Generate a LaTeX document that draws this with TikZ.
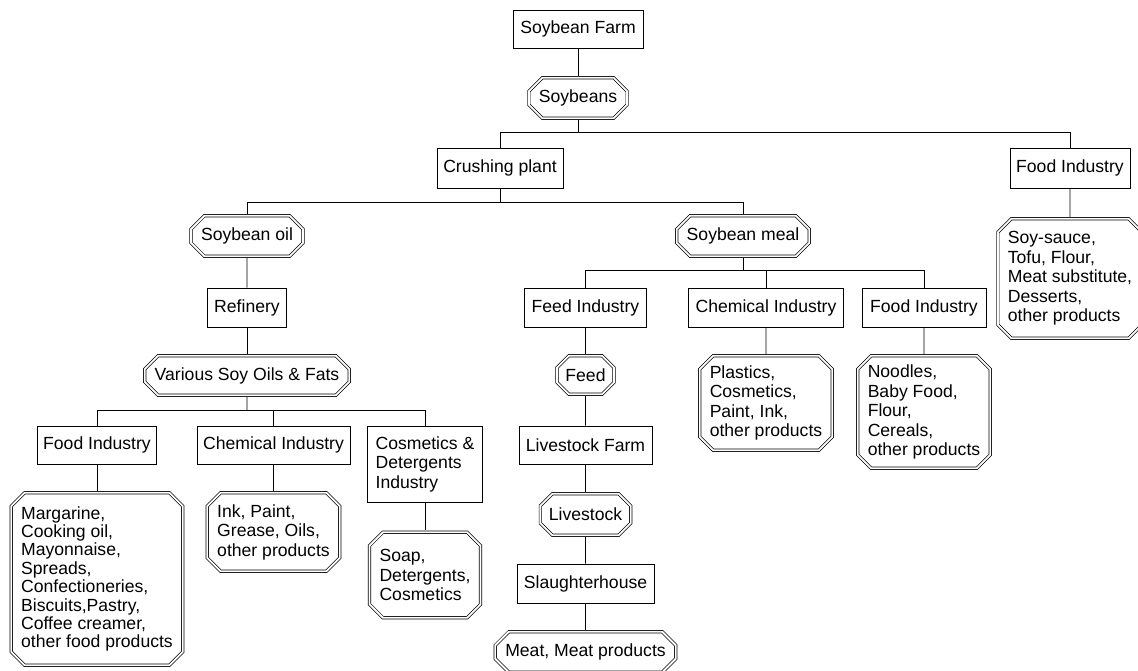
\documentclass[tikz,border=0pt]{standalone}
\usepackage{fontspec}
\setmainfont{Liberation Sans}
\usetikzlibrary{shapes.misc}

\tikzset{
  box/.style={draw, rectangle, line width=0.8pt, inner sep=2pt},
  prod/.style={draw, chamfered rectangle, chamfered rectangle xsep=10pt,
    double, double distance=1.8pt, line width=0.7pt, outer sep=1.7pt,
    align=left, inner xsep=0pt, inner ysep=2pt},
  link/.style={line width=0.8pt}
}

\begin{document}
\begin{tikzpicture}[x=1pt,y=-1pt,font=\fontsize{17.6pt}{19.5pt}\selectfont]
\useasboundingbox (0,0) rectangle (1138,671);
% top of the tree
\node[box, minimum width=130pt, minimum height=38pt] (farm) at (578,29) {Soybean Farm};
\node[prod, minimum width=91.6pt, minimum height=40.6pt] (soybeans) at (578,98) {Soybeans};
\node[box, minimum width=126pt, minimum height=40pt] (crush) at (500,168) {Crushing plant};
\node[box, minimum width=120pt, minimum height=40pt] (foodR) at (1070,168) {Food Industry};
\node[prod, minimum width=128.6pt, minimum height=119.6pt] (soyprod) at (1070,278.5) {Soy-sauce,\\Tofu, Flour,\\Meat substitute,\\Desserts,\\other products};
% oil branch
\node[prod, minimum width=104.6pt, minimum height=40.6pt] (oil) at (247,236) {Soybean oil};
\node[box, minimum width=79pt, minimum height=39pt] (refinery) at (247,307.5) {Refinery};
\node[prod, minimum width=199.6pt, minimum height=39.6pt] (various) at (247,375.5) {Various Soy Oils \& Fats};
\node[box, minimum width=119pt, minimum height=38pt] (foodL) at (97,445) {Food Industry};
\node[box, minimum width=153pt, minimum height=38pt] (chemL) at (273.5,445) {Chemical Industry};
\node[box, minimum width=115pt, minimum height=76pt, align=left] (cosm) at (425,464) {Cosmetics \&\\Detergents\\Industry};
\node[prod, minimum width=164.6pt, minimum height=172.6pt,
  font=\fontsize{17.6pt}{18.4pt}\selectfont] (margarine) at (97,579) {Margarine,\\Cooking oil,\\Mayonnaise,\\Spreads,\\Confectioneries,\\Biscuits,Pastry,\\Coffee creamer,\\other food products};
\node[prod, minimum width=124.6pt, minimum height=78.6pt] (ink) at (273.5,532) {Ink, Paint,\\Grease, Oils,\\other products};
\node[prod, minimum width=107.6pt, minimum height=85.6pt] (soap) at (425,575) {Soap,\\Detergents,\\Cosmetics};
% meal branch
\node[prod, minimum width=126.6pt, minimum height=40.6pt] (meal) at (743,236) {Soybean meal};
\node[box, minimum width=122pt, minimum height=39pt] (feedind) at (585.5,307.5) {Feed Industry};
\node[box, minimum width=155pt, minimum height=39pt] (chemM) at (766,307.5) {Chemical Industry};
\node[box, minimum width=124pt, minimum height=39pt] (foodM) at (924,307.5) {Food Industry};
\node[prod, minimum width=54.6pt, minimum height=38.6pt] (feed) at (585.5,375) {Feed};
\node[box, minimum width=133pt, minimum height=38pt] (livefarm) at (585.5,445) {Livestock Farm};
\node[prod, minimum width=85.6pt, minimum height=41.6pt] (livestock) at (585.5,514.5) {Livestock};
\node[box, minimum width=137pt, minimum height=39pt] (slaughter) at (585.5,583.5) {Slaughterhouse};
\node[prod, minimum width=172.6pt, minimum height=40.6pt] (meat) at (585.5,652) {Meat, Meat products};
\node[prod, minimum width=126.6pt, minimum height=94.6pt] (plastics) at (766,403) {Plastics,\\Cosmetics,\\Paint, Ink,\\other products};
\node[prod, minimum width=125.6pt, minimum height=112.6pt] (noodles) at (924,412) {Noodles,\\Baby Food,\\Flour,\\Cereals,\\other products};
% junctions
\coordinate (j1) at (578,132);
\coordinate (j2) at (500,202);
\coordinate (j3) at (247,410);
\coordinate (j4) at (743,270);
% connectors
\draw[link] (farm) -- (soybeans);
\draw[link] (soybeans) -- (j1);
\draw[link] (j1) -| (crush);
\draw[link] (j1) -| (foodR);
\draw[link] (foodR) -- (soyprod);
\draw[link] (crush) -- (j2);
\draw[link] (j2) -| (oil);
\draw[link] (j2) -| (meal);
\draw[link] (oil) -- (refinery);
\draw[link] (refinery) -- (various);
\draw[link] (various) -- (j3);
\draw[link] (j3) -| (foodL);
\draw[link] (j3) -| (chemL);
\draw[link] (j3) -| (cosm);
\draw[link] (foodL) -- (margarine);
\draw[link] (chemL) -- (ink);
\draw[link] (cosm) -- (soap);
\draw[link] (meal) -- (j4);
\draw[link] (j4) -| (feedind);
\draw[link] (j4) -| (chemM);
\draw[link] (j4) -| (foodM);
\draw[link] (feedind) -- (feed);
\draw[link] (feed) -- (livefarm);
\draw[link] (livefarm) -- (livestock);
\draw[link] (livestock) -- (slaughter);
\draw[link] (slaughter) -- (meat);
\draw[link] (chemM) -- (plastics);
\draw[link] (foodM) -- (noodles);
\end{tikzpicture}
\end{document}
